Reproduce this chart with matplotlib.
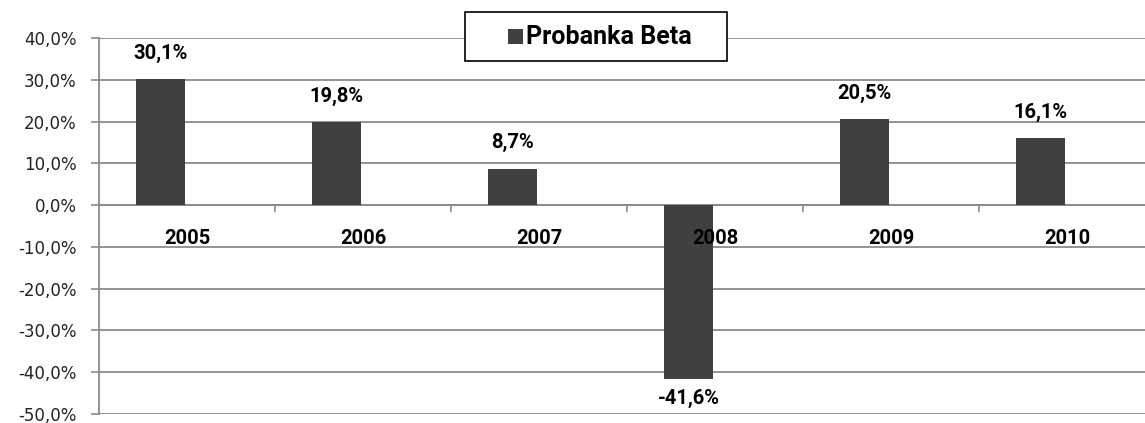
import numpy as np
import matplotlib
matplotlib.use('Agg')
import matplotlib.pyplot as plt
from matplotlib.patches import Rectangle
from matplotlib.ticker import FixedLocator, FuncFormatter

plt.rcParams['font.family'] = ['Roboto', 'DejaVu Sans']

years = ['2005', '2006', '2007', '2008', '2009', '2010']
returns = [30.1, 19.8, 8.7, -41.6, 20.5, 16.1]
series_name = 'Probanka Beta'

bar_color = '#404040'
grid_color = '#8a8a8a'

W, H = 1145, 423
fig = plt.figure(figsize=(W / 100, H / 100), dpi=100)
ax = fig.add_axes([99/W, (H-414)/H, 1056/W, (414-38)/H])

x = np.arange(len(years))
ax.bar(x - 0.15, returns, width=0.28, color=bar_color, zorder=3)

ax.set_xlim(-0.5, len(years) - 0.5)
ax.set_ylim(-50, 40)
ax.set_yticks(np.arange(-50, 41, 10))
ax.yaxis.set_major_formatter(FuncFormatter(lambda v, p: f'{v:.1f}%'.replace('.', ',')))
ax.tick_params(axis='y', length=6, color=grid_color, width=1.2, pad=10, labelcolor='#222222')
for lab in ax.get_yticklabels():
    lab.set_fontfamily('DejaVu Sans')
    lab.set_fontsize(12)
ax.grid(axis='y', color=grid_color, linewidth=1.3, zorder=0)

# category axis at zero, ticks between categories
ax.spines['bottom'].set_position(('data', 0))
ax.spines['bottom'].set_color(grid_color)
ax.spines['bottom'].set_linewidth(1.3)
ax.xaxis.set_major_locator(FixedLocator(np.arange(0.5, len(years) - 1, 1)))
ax.xaxis.set_major_formatter(FuncFormatter(lambda v, p: ''))
ax.tick_params(axis='x', length=5, color=grid_color, width=1.2, direction='out')
for s in ['top', 'right']:
    ax.spines[s].set_visible(False)
ax.spines['left'].set_color(grid_color)
ax.spines['left'].set_linewidth(1.3)

for i, yr in enumerate(years):
    ax.text(i, -8, yr, ha='center', va='center', fontsize=14.5, fontweight='bold', color='black')

for i, v in enumerate(returns):
    lab = f'{v:.1f}%'.replace('.', ',')
    off = 6.2 if v >= 0 else -4.6
    ax.text(i - 0.15, v + off, lab, ha='center', va='center',
            fontsize=14.5, fontweight='bold', color='black')

# legend box drawn by hand (pixel coords) to match the wide padding
def px(xp, yp):
    return xp / W, (H - yp) / H

x0, y0 = px(465, 61)
fig.patches.append(Rectangle((x0, y0), 262 / W, 49 / H, transform=fig.transFigure,
                             facecolor='white', edgecolor='black', linewidth=1.2, zorder=5))
sx, sy = px(508, 44)
fig.patches.append(Rectangle((sx, sy), 15 / W, 15 / H, transform=fig.transFigure,
                             facecolor=bar_color, edgecolor='none', zorder=6))
tx, ty = px(526, 37)
fig.text(tx, ty, series_name, ha='left', va='center', fontsize=18, fontweight='bold',
         color='black', zorder=7)

fig.savefig('out.png', dpi=100)
